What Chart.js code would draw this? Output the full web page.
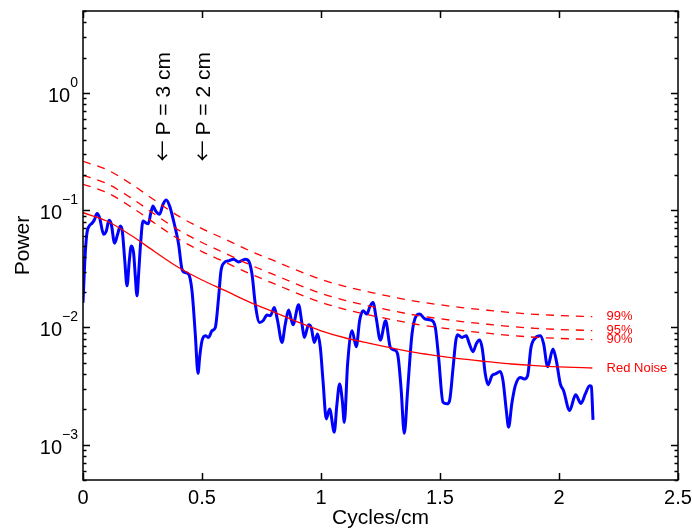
<!DOCTYPE html>
<html>
<head>
<meta charset="utf-8">
<script src="https://cdn.jsdelivr.net/npm/chart.js@4/dist/chart.umd.min.js"></script>
<style>
  html, body { margin: 0; padding: 0; background: #fff; }
  #wrap { width: 692px; height: 529px; }
</style>
</head>
<body>
<div id="wrap"><canvas id="spectrum" width="692" height="529"></canvas></div>
<script>
// -----------------------------------------------------------------
// data (cycles/cm vs power)
const powerFreq = [
  0.000, 0.0076, 0.016, 0.0265, 0.039, 0.0475, 0.0588, 0.0697, 0.0866, 0.0979,
  0.1092, 0.1189, 0.1328, 0.1454, 0.1567, 0.1651, 0.1756, 0.1849, 0.1945, 0.2029,
  0.2126, 0.2197, 0.2269, 0.2345, 0.2408, 0.2521, 0.263, 0.2744, 0.2849, 0.2941,
  0.305, 0.3218, 0.3361, 0.35, 0.3639, 0.3807, 0.4017, 0.416, 0.4298, 0.4437,
  0.458, 0.4718, 0.4832, 0.4908, 0.500, 0.5139, 0.5277, 0.542, 0.5559, 0.5697,
  0.5798, 0.5937, 0.6118, 0.6328, 0.6538, 0.6819, 0.6958, 0.7101, 0.724, 0.742,
  0.7563, 0.7731, 0.787, 0.8038, 0.8176, 0.8361, 0.85, 0.8639, 0.8824, 0.9059,
  0.9202, 0.9298, 0.9479, 0.9592, 0.9718, 0.9857, 0.9971, 1.0084, 1.0223, 1.0361,
  1.0559, 1.0664, 1.0782, 1.0895, 1.0979, 1.1118, 1.1303, 1.1483, 1.1622, 1.1765,
  1.1933, 1.205, 1.2185, 1.2324, 1.2492, 1.2714, 1.2912, 1.308, 1.3218, 1.3361,
  1.35, 1.3639, 1.3824, 1.4004, 1.4143, 1.4382, 1.4622, 1.4803, 1.4941, 1.5126,
  1.5294, 1.5403, 1.5546, 1.5664, 1.5739, 1.5924, 1.6105, 1.6231, 1.6387, 1.6525,
  1.6664, 1.6777, 1.6903, 1.7017, 1.7185, 1.7324, 1.7534, 1.7647, 1.7786, 1.7882,
  1.8017, 1.8164, 1.8374, 1.8542, 1.8681, 1.8824, 1.9004, 1.9214, 1.9353, 1.9521,
  1.9748, 1.9887, 2.0055, 2.0193, 2.0445, 2.0697, 2.0924, 2.1105, 2.1286, 2.1357,
  2.1429
];
const powerValue = [
  0.01623, 0.03695, 0.0627, 0.0734, 0.0778, 0.0825, 0.0937, 0.0864, 0.0624, 0.0665,
  0.0820, 0.0759, 0.0523, 0.0624, 0.0734, 0.0665, 0.0370, 0.02264, 0.0370, 0.0496,
  0.0432, 0.02754, 0.01861, 0.0304, 0.0480, 0.0809, 0.0782, 0.0767, 0.0947, 0.1086,
  0.0985, 0.0923, 0.1122, 0.1221, 0.1086, 0.0809, 0.0513, 0.0314, 0.0294, 0.0285,
  0.0205, 0.00879, 0.00406, 0.00574, 0.0077, 0.0085, 0.00822, 0.00937, 0.0100, 0.0180,
  0.0304, 0.0357, 0.0370, 0.0382, 0.0362, 0.0382, 0.0370, 0.0285, 0.0158, 0.01103,
  0.0114, 0.01275, 0.01258, 0.0148, 0.0114, 0.00746, 0.01069, 0.01406, 0.01054, 0.0156,
  0.01069, 0.00822, 0.01054, 0.00994, 0.00746, 0.00879, 0.00676, 0.00352, 0.00166, 0.00202,
  0.00128, 0.00216, 0.0033, 0.00238, 0.00155, 0.00488, 0.00937, 0.00685, 0.0114, 0.01387,
  0.0130, 0.0150, 0.01632, 0.01186, 0.00781, 0.0114, 0.00676, 0.00642, 0.00594, 0.00309,
  0.00125, 0.00289, 0.00879, 0.01258, 0.0130, 0.01179, 0.01156, 0.0100, 0.00556, 0.0023,
  0.00223, 0.00238, 0.00445, 0.0077, 0.00867, 0.00822, 0.0085, 0.00727, 0.00621, 0.00727,
  0.00781, 0.00659, 0.00401, 0.00325, 0.00388, 0.00401, 0.00422, 0.00352, 0.00196, 0.00141,
  0.00224, 0.00319, 0.00375, 0.00364, 0.00388, 0.00676, 0.00813, 0.0085, 0.00727, 0.00463,
  0.00655, 0.00521, 0.0033, 0.00289, 0.00196, 0.00267, 0.00225, 0.00271, 0.00319, 0.00314,
  0.00163
];

// red noise background and confidence levels
const noiseFreq = [0, 0.1, 0.2, 0.3, 0.4, 0.5, 0.6, 0.7, 0.8, 0.9, 1.0, 1.1,
  1.2, 1.3, 1.4, 1.5, 1.6, 1.7, 1.8, 1.9, 2.0, 2.1, 2.14];
const redNoise = [0.0952, 0.0809, 0.0614, 0.0445, 0.0326, 0.0254, 0.0205, 0.01645,
  0.0136, 0.01118, 0.00937, 0.00817, 0.00734, 0.00665, 0.00609, 0.00569, 0.00536,
  0.00511, 0.00488, 0.00472, 0.00461, 0.00454, 0.00451];
const conf90 = [0.1664, 0.1414, 0.1073, 0.0778, 0.0570, 0.0444, 0.0358, 0.02875,
  0.02377, 0.01954, 0.01638, 0.01428, 0.01283, 0.01162, 0.01065, 0.00995, 0.00937,
  0.00893, 0.00853, 0.00825, 0.00806, 0.00794, 0.00788];
const conf95 = [0.1985, 0.1687, 0.1280, 0.0928, 0.0680, 0.0530, 0.0427, 0.0343,
  0.02836, 0.02331, 0.01954, 0.01703, 0.01530, 0.01387, 0.01270, 0.01186, 0.01118,
  0.01065, 0.01017, 0.00984, 0.00961, 0.00947, 0.00940];
const conf99 = [0.2611, 0.2219, 0.1684, 0.1221, 0.0894, 0.0697, 0.0562, 0.0451,
  0.0373, 0.03067, 0.02570, 0.02241, 0.02013, 0.01824, 0.01670, 0.01561, 0.01470,
  0.01402, 0.01339, 0.01295, 0.01265, 0.01245, 0.01237];

const curveLabels = ['99%', '95%', '90%', 'Red Noise'];
const curveLabelFreq = 2.2;

const periodFreq = [1 / 3, 1 / 2];
const periodLabels = ['P = 3 cm', 'P = 2 cm'];
const periodAnchor = 0.26;

const xTicks = [0, 0.5, 1, 1.5, 2, 2.5];
const xTickLabels = ['0', '0.5', '1', '1.5', '2', '2.5'];
const yTicks = [1e-3, 1e-2, 1e-1, 1];
const yExponents = ['\u22123', '\u22122', '\u22121', '0'];

const FONT = "'Liberation Sans', Arial, Helvetica, sans-serif";

// -----------------------------------------------------------------
const toPoints = (xs, ys) => xs.map((x, i) => ({ x, y: ys[i] }));

// matlab-style box, inward ticks and labels
const matlabAxes = {
  id: 'matlabAxes',
  afterDatasetsDraw(chart) {
    const { ctx, chartArea: a, scales: { x, y } } = chart;
    ctx.save();
    ctx.strokeStyle = '#000';
    ctx.fillStyle = '#000';
    ctx.lineWidth = 1.5;

    // ticks
    ctx.beginPath();
    xTicks.forEach((v) => {
      const px = Math.round(x.getPixelForValue(v)) + 0.5;
      ctx.moveTo(px, a.bottom); ctx.lineTo(px, a.bottom - 7);
      ctx.moveTo(px, a.top); ctx.lineTo(px, a.top + 7);
    });
    for (let k = -4; k <= 0; k++) {
      for (let m = 1; m <= 9; m++) {
        const v = m * Math.pow(10, k);
        if (v < y.min || v > y.max) continue;
        const py = Math.round(y.getPixelForValue(v)) + 0.5;
        const len = m === 1 ? 7 : 3.5;
        ctx.moveTo(a.left, py); ctx.lineTo(a.left + len, py);
        ctx.moveTo(a.right, py); ctx.lineTo(a.right - len, py);
      }
    }
    ctx.stroke();

    // box
    ctx.strokeRect(a.left, a.top, a.right - a.left, a.bottom - a.top);

    // x tick labels
    ctx.font = '20px ' + FONT;
    ctx.textAlign = 'center';
    ctx.textBaseline = 'alphabetic';
    xTicks.forEach((v, i) => {
      ctx.fillText(xTickLabels[i], x.getPixelForValue(v), 504);
    });

    // y tick labels 10^k
    yTicks.forEach((v, i) => {
      const py = y.getPixelForValue(v);
      ctx.font = '14px ' + FONT;
      const ew = ctx.measureText(yExponents[i]).width;
      ctx.textAlign = 'left';
      ctx.fillText(yExponents[i], a.left - 5 - ew, py - 6);
      ctx.font = '20px ' + FONT;
      ctx.textAlign = 'right';
      ctx.fillText('10', a.left - 5 - ew, py + 9);
    });

    // axis titles
    ctx.font = '21px ' + FONT;
    ctx.textAlign = 'center';
    ctx.fillText('Cycles/cm', (a.left + a.right) / 2, 524);
    ctx.save();
    ctx.translate(29, (a.top + a.bottom) / 2);
    ctx.rotate(-Math.PI / 2);
    ctx.fillText('Power', 0, 0);
    ctx.restore();

    // period markers: arrow then text, rotated
    ctx.textAlign = 'left';
    periodFreq.forEach((f, i) => {
      ctx.save();
      ctx.translate(x.getPixelForValue(f) + 8, y.getPixelForValue(periodAnchor));
      ctx.rotate(-Math.PI / 2);
      ctx.font = "21px 'Noto Sans CJK JP', 'DejaVu Sans', sans-serif";
      ctx.fillText('\u2190', 0, 0);
      const aw = ctx.measureText('\u2190').width;
      ctx.font = '21px ' + FONT;
      ctx.fillText(periodLabels[i], aw + 5, 0);
      ctx.restore();
    });

    // curve labels
    ctx.fillStyle = '#ff0000';
    ctx.font = '13px ' + FONT;
    ctx.textBaseline = 'middle';
    const ends = [conf99, conf95, conf90, redNoise].map((s) => s[s.length - 1]);
    curveLabels.forEach((t, i) => {
      ctx.fillText(t, x.getPixelForValue(curveLabelFreq), y.getPixelForValue(ends[i]));
    });
    ctx.restore();
  }
};

const redLine = (data, dashed) => ({
  data: toPoints(noiseFreq, data),
  borderColor: '#ff0000',
  borderWidth: 1.3,
  borderDash: dashed ? [8, 7] : [],
  pointRadius: 0,
  cubicInterpolationMode: 'monotone',
  fill: false,
});

const chart = new Chart(document.getElementById('spectrum'), {
  type: 'line',
  data: {
    datasets: [
      redLine(redNoise, false),
      redLine(conf90, true),
      redLine(conf95, true),
      redLine(conf99, true),
      {
        data: toPoints(powerFreq, powerValue),
        borderColor: '#0000ff',
        borderWidth: 3,
        pointRadius: 0,
        cubicInterpolationMode: 'monotone',
        fill: false,
      },
    ],
  },
  options: {
    responsive: false,
    animation: false,
    devicePixelRatio: 1,
    layout: { padding: { left: 83, right: 14, top: 11, bottom: 49 } },
    plugins: { legend: { display: false }, tooltip: { enabled: false } },
    scales: {
      x: { type: 'linear', min: 0, max: 2.5, display: false },
      y: { type: 'logarithmic', min: 5e-4, max: 5, display: false },
    },
  },
  plugins: [matlabAxes],
});
</script>
</body>
</html>
